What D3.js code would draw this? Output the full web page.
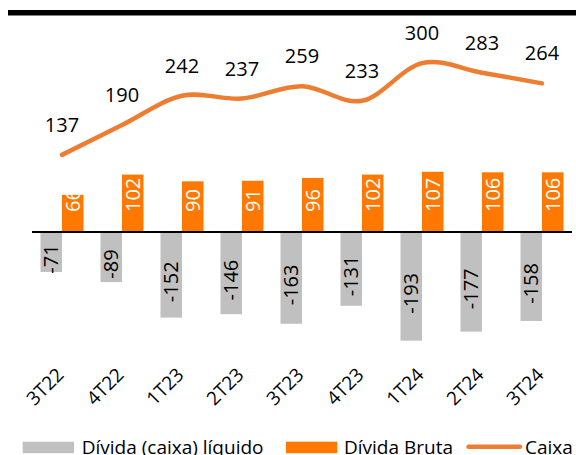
<!DOCTYPE html>
<html>
<head>
<meta charset="utf-8">
<script src="https://cdn.jsdelivr.net/npm/d3@7"></script>
<style>
  body { margin: 0; background: #fff; }
  svg { display: block; font-family: "Open Sans", "Noto Sans", sans-serif; }
</style>
</head>
<body>
<div id="chart"></div>
<script>
var w = 576;
var h = 455;

// data
var quarters = ["3T22", "4T22", "1T23", "2T23", "3T23", "4T23", "1T24", "2T24", "3T24"];
var dividaLiquida = [-71, -89, -152, -146, -163, -131, -193, -177, -158];
var dividaBruta = [66, 102, 90, 91, 96, 102, 107, 106, 106];
var caixa = [137, 190, 242, 237, 259, 233, 300, 283, 264];
var legendLabels = ["Dívida (caixa) líquido", "Dívida Bruta", "Caixa"];

var grey = "#c0c0c0";
var orange = "#ff7900";
var lineOrange = "#ed7d31";

var svg = d3.select("#chart")
  .append("svg")
  .attr("width", w)
  .attr("height", h);

// thick top rule
svg.append("rect")
  .attr("x", 8)
  .attr("y", 10)
  .attr("width", w - 8)
  .attr("height", 5.5)
  .attr("fill", "#000");

var x = d3.scaleBand()
  .domain(quarters)
  .range([32, 572]);

var y = d3.scaleLinear()
  .domain([-200, 300])
  .range([232 + 200 * 0.563, 232 - 300 * 0.563]);

var barW = 21.5;
function cx(d) { return x(d) + x.bandwidth() / 2; }

var rows = quarters.map(function(q, i) {
  return { q: q, liq: dividaLiquida[i], bruta: dividaBruta[i], caixa: caixa[i] };
});

// grey bars (net debt)
svg.selectAll("rect.liq")
  .data(rows)
  .enter()
  .append("rect")
  .attr("class", "liq")
  .attr("x", function(d) { return cx(d.q) - barW; })
  .attr("y", y(0))
  .attr("width", barW)
  .attr("height", function(d) { return y(d.liq) - y(0); })
  .attr("fill", grey);

// orange bars (gross debt)
svg.selectAll("rect.bruta")
  .data(rows)
  .enter()
  .append("rect")
  .attr("class", "bruta")
  .attr("x", function(d) { return cx(d.q); })
  .attr("y", function(d) { return y(d.bruta); })
  .attr("width", barW)
  .attr("height", function(d) { return y(0) - y(d.bruta); })
  .attr("fill", orange);

// zero axis
svg.append("line")
  .attr("x1", 32)
  .attr("x2", 572)
  .attr("y1", y(0))
  .attr("y2", y(0))
  .attr("stroke", "#000")
  .attr("stroke-width", 2);

// bar labels, rotated
svg.selectAll("text.bruta")
  .data(rows)
  .enter()
  .append("text")
  .attr("class", "bruta")
  .attr("transform", function(d) {
    return "translate(" + (cx(d.q) + barW / 2) + "," + (y(0) - 20) + ") rotate(-90)";
  })
  .attr("dy", "0.35em")
  .attr("text-anchor", "start")
  .attr("font-size", "20px")
  .attr("fill", "#fff")
  .text(function(d) { return d.bruta; });

svg.selectAll("text.liq")
  .data(rows)
  .enter()
  .append("text")
  .attr("class", "liq")
  .attr("transform", function(d) {
    return "translate(" + (cx(d.q) - barW / 2) + "," + (y(d.liq / 2) + 7) + ") rotate(-90)";
  })
  .attr("dy", "0.35em")
  .attr("text-anchor", "middle")
  .attr("font-size", "20px")
  .attr("fill", "#000")
  .text(function(d) { return d.liq; });

// cash line
var line = d3.line()
  .x(function(d) { return cx(d.q); })
  .y(function(d) { return y(d.caixa); })
  .curve(d3.curveCardinal);

svg.append("path")
  .datum(rows)
  .attr("d", line)
  .attr("fill", "none")
  .attr("stroke", lineOrange)
  .attr("stroke-width", 4.5)
  .attr("stroke-linecap", "round");

svg.selectAll("text.caixa")
  .data(rows)
  .enter()
  .append("text")
  .attr("class", "caixa")
  .attr("x", function(d) { return cx(d.q); })
  .attr("y", function(d) { return y(d.caixa) - 23; })
  .attr("text-anchor", "middle")
  .attr("font-size", "20px")
  .attr("fill", "#000")
  .text(function(d) { return d.caixa; });

// category labels at 45 degrees
svg.selectAll("text.cat")
  .data(quarters)
  .enter()
  .append("text")
  .attr("class", "cat")
  .attr("transform", function(d) {
    return "translate(" + (cx(d) + 3) + ",376) rotate(-45)";
  })
  .attr("text-anchor", "end")
  .attr("font-size", "19px")
  .attr("fill", "#000")
  .text(function(d) { return d; });

// legend
var lg = svg.append("g");
lg.append("rect").attr("x", 22.7).attr("y", 441.7).attr("width", 51.3).attr("height", 11.5).attr("fill", grey);
lg.append("text").attr("x", 81.7).attr("y", 453.6).attr("font-size", "19px").text(legendLabels[0]);
lg.append("rect").attr("x", 286).attr("y", 441.7).attr("width", 51.3).attr("height", 11.5).attr("fill", orange);
lg.append("text").attr("x", 344).attr("y", 453.6).attr("font-size", "19px").text(legendLabels[1]);
lg.append("line").attr("x1", 468.5).attr("x2", 520).attr("y1", 446.7).attr("y2", 446.7)
  .attr("stroke", lineOrange).attr("stroke-width", 4.5).attr("stroke-linecap", "round");
lg.append("text").attr("x", 525).attr("y", 453.6).attr("font-size", "19px").text(legendLabels[2]);
</script>
</body>
</html>
